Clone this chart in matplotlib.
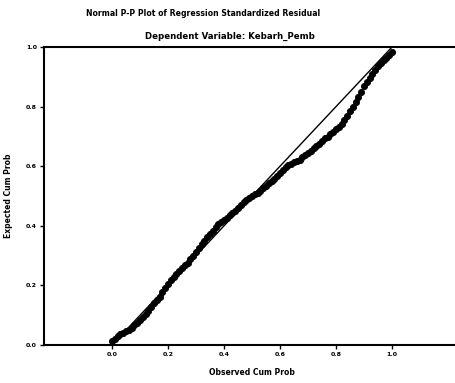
import numpy as np
import matplotlib.pyplot as plt

# observed vs expected cumulative probabilities
observed = [0.00, 0.01, 0.02, 0.03, 0.04, 0.05, 0.06, 0.07, 0.08, 0.09,
            0.10, 0.11, 0.12, 0.13, 0.14, 0.15, 0.16, 0.17, 0.18, 0.19,
            0.20, 0.21, 0.22, 0.23, 0.24, 0.25, 0.26, 0.27, 0.28, 0.29,
            0.30, 0.31, 0.32, 0.33, 0.34, 0.35, 0.36, 0.37, 0.38, 0.39,
            0.40, 0.41, 0.42, 0.43, 0.44, 0.45, 0.46, 0.47, 0.48, 0.49,
            0.50, 0.51, 0.52, 0.53, 0.54, 0.55, 0.56, 0.57, 0.58, 0.59,
            0.60, 0.61, 0.62, 0.63, 0.64, 0.65, 0.66, 0.67, 0.68, 0.69,
            0.70, 0.71, 0.72, 0.73, 0.74, 0.75, 0.76, 0.77, 0.78, 0.79,
            0.80, 0.81, 0.82, 0.83, 0.84, 0.85, 0.86, 0.87, 0.88, 0.89,
            0.90, 0.91, 0.92, 0.93, 0.94, 0.95, 0.96, 0.97, 0.98, 0.99, 1.00]
expected = [0.015, 0.022, 0.030, 0.036, 0.041, 0.047, 0.052, 0.058, 0.066, 0.075,
            0.083, 0.093, 0.103, 0.115, 0.128, 0.140, 0.151, 0.163, 0.178, 0.192,
            0.206, 0.218, 0.228, 0.240, 0.249, 0.258, 0.268, 0.276, 0.288, 0.300,
            0.314, 0.326, 0.338, 0.350, 0.362, 0.373, 0.384, 0.396, 0.405, 0.413,
            0.420, 0.428, 0.436, 0.443, 0.450, 0.460, 0.470, 0.479, 0.486, 0.492,
            0.500, 0.506, 0.511, 0.518, 0.526, 0.535, 0.543, 0.549, 0.556, 0.566,
            0.578, 0.588, 0.596, 0.603, 0.608, 0.613, 0.618, 0.622, 0.630, 0.638,
            0.646, 0.653, 0.660, 0.668, 0.676, 0.685, 0.694, 0.700, 0.708, 0.716,
            0.724, 0.731, 0.742, 0.755, 0.768, 0.784, 0.800, 0.816, 0.832, 0.850,
            0.868, 0.884, 0.898, 0.910, 0.924, 0.938, 0.948, 0.956, 0.965, 0.975, 0.985]
ticks = [0.0, 0.2, 0.4, 0.6, 0.8, 1.0]
tick_labels = ["0.0", "0.2", "0.4", "0.6", "0.8", "1.0"]

fig = plt.figure(figsize=(4.56, 3.83), dpi=100)
ax = fig.add_axes([0.0965, 0.099, 0.9035, 0.778])

# reference diagonal
ax.plot([0, 1], [0, 1], color="black", lw=1.0, zorder=2)
ax.scatter(observed, expected, s=20, facecolor="black", edgecolor="black",
           linewidths=0.6, zorder=3)

ax.set_xlim(-0.243, 1.229)
ax.set_ylim(0, 1.0)
ax.set_xticks(ticks)
ax.set_xticklabels(tick_labels)
ax.set_yticks(ticks)
ax.set_yticklabels(tick_labels)
ax.tick_params(labelsize=4.5, length=3, width=1, pad=2)
for lab in ax.get_xticklabels() + ax.get_yticklabels():
    lab.set_fontweight("bold")

for s in ["left", "bottom", "top"]:
    ax.spines[s].set_linewidth(1.5)
ax.spines["right"].set_visible(False)

fig.text(0.445, 0.965, "Normal P-P Plot of Regression Standardized Residual",
         ha="center", va="center", fontsize=5.6, fontweight="bold")
fig.text(0.505, 0.905, "Dependent Variable: Kebarh_Pemb",
         ha="center", va="center", fontsize=6.2, fontweight="bold")
fig.text(0.552, 0.028, "Observed Cum Prob", ha="center", va="center",
         fontsize=5.5, fontweight="bold")
fig.text(0.018, 0.49, "Expected Cum Prob", ha="center", va="center",
         rotation=90, fontsize=5.5, fontweight="bold")

fig.savefig("out.png", dpi=100)
